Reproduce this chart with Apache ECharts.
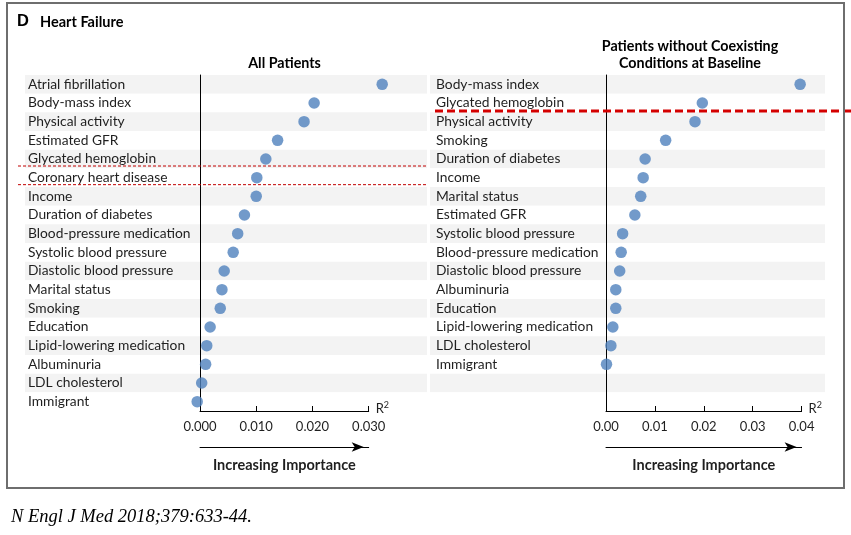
<!DOCTYPE html>
<html>
<head>
<meta charset="utf-8">
<script src="https://cdn.jsdelivr.net/npm/echarts@6/dist/echarts.min.js"></script>
<style>
html,body{margin:0;padding:0;background:#fff;}
#c{width:851px;height:535px;}
</style>
</head>
<body>
<div id="c"></div>
<script>
// ---- data ----
const leftCats = ['Atrial fibrillation','Body-mass index','Physical activity','Estimated GFR','Glycated hemoglobin','Coronary heart disease','Income','Duration of diabetes','Blood-pressure medication','Systolic blood pressure','Diastolic blood pressure','Marital status','Smoking','Education','Lipid-lowering medication','Albuminuria','LDL cholesterol','Immigrant'];
const leftVals = [0.0324,0.0203,0.0185,0.0138,0.0117,0.0101,0.0100,0.0079,0.0067,0.0059,0.0043,0.0039,0.0036,0.0018,0.0012,0.0010,0.0003,-0.0005];
const rightCats = ['Body-mass index','Glycated hemoglobin','Physical activity','Smoking','Duration of diabetes','Income','Marital status','Estimated GFR','Systolic blood pressure','Blood-pressure medication','Diastolic blood pressure','Albuminuria','Education','Lipid-lowering medication','LDL cholesterol','Immigrant'];
const rightVals = [0.0397,0.0197,0.0182,0.0122,0.0080,0.0076,0.0071,0.0059,0.0034,0.0031,0.0028,0.0020,0.0020,0.0014,0.0010,0.0001];
const rightBlankRows = ['', ' '];
const leftTicks = {min: 0, max: 0.03, interval: 0.01, decimals: 3};
const rightTicks = {min: 0, max: 0.04, interval: 0.01, decimals: 2};

const rightAll = rightCats.concat(rightBlankRows);

const FONT = 'Lato';
const TXT = '#1f1f1f';
const DOT = '#4f81bd';
const STRIPES = ['#f3f3f3', '#ffffff'];

const chart = echarts.init(document.getElementById('c'), null, {renderer: 'canvas'});

const TOP = 75, H = 336;

function bgY(grid, cats) {
  return {
    type: 'category', gridIndex: grid, data: cats, inverse: true,
    axisLine: {show: false}, axisTick: {show: false}, axisLabel: {show: false},
    splitLine: {show: false},
    splitArea: {show: true, interval: 0, areaStyle: {color: STRIPES}}
  };
}
function dataY(grid, cats, margin) {
  return {
    type: 'category', gridIndex: grid, data: cats, inverse: true,
    axisLine: {show: true, lineStyle: {color: '#000', width: 1}},
    axisTick: {show: false},
    axisLabel: {show: true, interval: 0, align: 'left', margin: margin,
      color: TXT, fontFamily: FONT, fontSize: 13.8},
    splitLine: {show: false}, splitArea: {show: false}
  };
}
function dataX(grid, t) {
  return {
    type: 'value', gridIndex: grid, min: t.min, max: t.max, interval: t.interval,
    position: 'bottom',
    axisLine: {show: true, onZero: false, lineStyle: {color: '#000', width: 1}},
    axisTick: {show: true, inside: true, length: 5, lineStyle: {color: '#000'}},
    axisLabel: {show: true, margin: 9, color: TXT, fontFamily: FONT, fontSize: 13,
      formatter: v => v.toFixed(t.decimals)},
    splitLine: {show: false},
    name: 'R{sup|2}', nameLocation: 'end', nameGap: 7,
    nameTextStyle: {color: TXT, fontFamily: FONT, fontSize: 13, verticalAlign: 'bottom', padding: [0,0,-6,0],
      rich: {sup: {fontFamily: FONT, fontSize: 9, color: TXT, padding: [0, 0, 7, 0]}}}
  };
}
function arrowX(grid, t) {
  return {
    type: 'value', gridIndex: grid, min: t.min, max: t.max, interval: t.interval,
    position: 'bottom', offset: 36,
    axisLine: {show: true, onZero: false, symbol: ['none', 'arrow'], symbolSize: [7, 12],
      symbolOffset: [0, -5], lineStyle: {color: '#000', width: 1}},
    axisTick: {show: false}, axisLabel: {show: false}, splitLine: {show: false},
    name: 'Increasing Importance', nameLocation: 'middle', nameGap: 11,
    nameTextStyle: {color: TXT, fontFamily: FONT, fontSize: 14.5, fontWeight: 'bold'}
  };
}

const option = {
  animation: false,
  backgroundColor: '#fff',
  grid: [
    {left: 25, width: 402, top: TOP, height: H},
    {left: 200, width: 168.7, top: TOP, height: H},
    {left: 430, width: 395, top: TOP, height: H},
    {left: 606, width: 195.6, top: TOP, height: H}
  ],
  xAxis: [
    {type: 'value', gridIndex: 0, show: false},
    dataX(1, leftTicks),
    arrowX(1, leftTicks),
    {type: 'value', gridIndex: 2, show: false},
    dataX(3, rightTicks),
    arrowX(3, rightTicks)
  ],
  yAxis: [
    bgY(0, leftCats),
    dataY(1, leftCats, 172),
    bgY(2, rightAll),
    dataY(3, rightAll, 170)
  ],
  series: [
    {type: 'scatter', xAxisIndex: 1, yAxisIndex: 1, symbolSize: 11.5, clip: false,
      itemStyle: {color: DOT}, data: leftVals.map((v, i) => [v, leftCats[i]])},
    {type: 'scatter', xAxisIndex: 4, yAxisIndex: 3, symbolSize: 11.5, clip: false,
      itemStyle: {color: DOT}, data: rightVals.map((v, i) => [v, rightCats[i]])}
  ]
};
chart.setOption(option);

// decorations: frame, titles, footer, highlight underlines
function rowY(yAxisIndex, name, off) {
  return chart.convertToPixel({yAxisIndex: yAxisIndex}, name) + off;
}
const yHb = rowY(1, 'Glycated hemoglobin', 7);
const yCHD = rowY(1, 'Coronary heart disease', 7);
const yHbR = rowY(3, 'Glycated hemoglobin', 8);

chart.setOption({
  graphic: [
    {type: 'rect', shape: {x: 7, y: 3, width: 837, height: 485},
      style: {fill: 'none', stroke: '#6e6e6e', lineWidth: 2}, z: 100},
    {type: 'text', x: 17, y: 21, style: {text: 'D', font: 'bold 16.5px "Liberation Sans"', fill: '#000', verticalAlign: 'middle'}},
    {type: 'text', x: 40, y: 22, style: {text: 'Heart Failure', font: 'bold 14.5px ' + FONT, fill: '#000', verticalAlign: 'middle'}},
    {type: 'text', x: 284.5, y: 63, style: {text: 'All Patients', font: 'bold 14.3px ' + FONT, fill: '#000', align: 'center', verticalAlign: 'middle'}},
    {type: 'text', x: 690, y: 46, style: {text: 'Patients without Coexisting', font: 'bold 14.3px ' + FONT, fill: '#000', align: 'center', verticalAlign: 'middle'}},
    {type: 'text', x: 690, y: 63.5, style: {text: 'Conditions at Baseline', font: 'bold 14.3px ' + FONT, fill: '#000', align: 'center', verticalAlign: 'middle'}},
    {type: 'text', x: 11, y: 517, style: {text: 'N Engl J Med 2018;379:633-44.', font: 'italic 18.5px "Liberation Serif"', fill: '#000', verticalAlign: 'middle'}},
    {type: 'line', shape: {x1: 18, y1: yHb, x2: 426, y2: yHb}, style: {stroke: '#c00000', lineWidth: 1, lineDash: [3, 2]}, z: 50},
    {type: 'line', shape: {x1: 18, y1: yCHD, x2: 426, y2: yCHD}, style: {stroke: '#c00000', lineWidth: 1, lineDash: [3, 2]}, z: 50},
    {type: 'line', shape: {x1: 435, y1: yHbR, x2: 851, y2: yHbR}, style: {stroke: '#d40000', lineWidth: 3, lineDash: [8, 4]}, z: 50}
  ]
});
</script>
</body>
</html>
